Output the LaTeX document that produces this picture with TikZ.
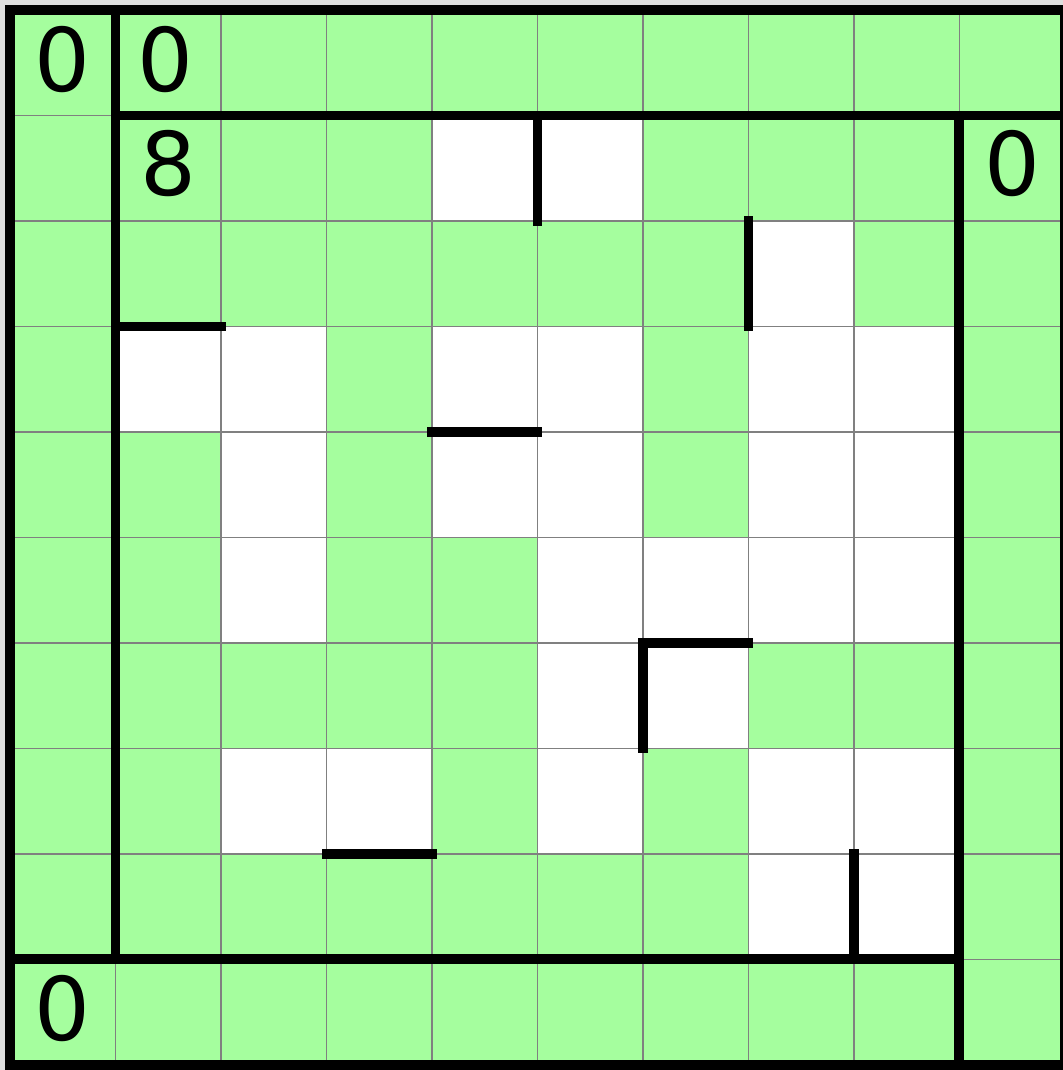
\documentclass[tikz,border=0pt]{standalone}
\usepackage{fontspec}
\setmainfont{DejaVu Sans}
\definecolor{cellgreen}{RGB}{165,254,158}
\definecolor{gridgray}{RGB}{128,128,128}
\definecolor{margingray}{RGB}{222,222,222}
\begin{document}
\begin{tikzpicture}[x=1cm,y=-1cm,
  thingrid/.style={draw=gridgray,line width=0.4pt},
  wall/.style={line width=2.6pt,line cap=rect},
  border/.style={line width=2.6pt},
  digit/.style={font=\fontsize{23.7}{28}\selectfont,inner sep=0pt}]
\useasboundingbox[fill=margingray] (-0.095,-0.095) rectangle (9.98,10.05);
\fill[cellgreen] (0,0) rectangle (10,10);
\foreach \c/\r in {4/1,5/1,7/2,1/3,2/3,4/3,5/3,7/3,8/3,2/4,4/4,5/4,7/4,8/4,2/5,5/5,6/5,7/5,8/5,5/6,6/6,2/7,3/7,5/7,7/7,8/7,7/8,8/8}
  \fill[white] (\c,\r) rectangle ++(1,1);
\draw[thingrid] (0,0) grid (10,10);
% outer border and pinwheel lines
\draw[border] (0,0) rectangle (10,10);
\draw[wall] (1,0) -- (1,9);
\draw[wall] (1,1) -- (10,1);
\draw[wall] (9,1) -- (9,10);
\draw[wall] (0,9) -- (9,9);
% inner walls
\draw[wall] (5,1) -- (5,2);
\draw[wall] (7,2) -- (7,3);
\draw[wall] (1,3) -- (2,3);
\draw[wall] (4,4) -- (5,4);
\draw[wall] (7,6) -- (6,6) -- (6,7);
\draw[wall] (3,8) -- (4,8);
\draw[wall] (8,8) -- (8,9);
% numbers
\node[digit] (a) at (0.5,0.47) {0};
\node[digit] (b) at (1.47,0.47) {0};
\node[digit] (c) at (1.5,1.46) {8};
\node[digit] (d) at (9.5,1.46) {0};
\node[digit] (e) at (0.5,9.47) {0};
\end{tikzpicture}
\end{document}
